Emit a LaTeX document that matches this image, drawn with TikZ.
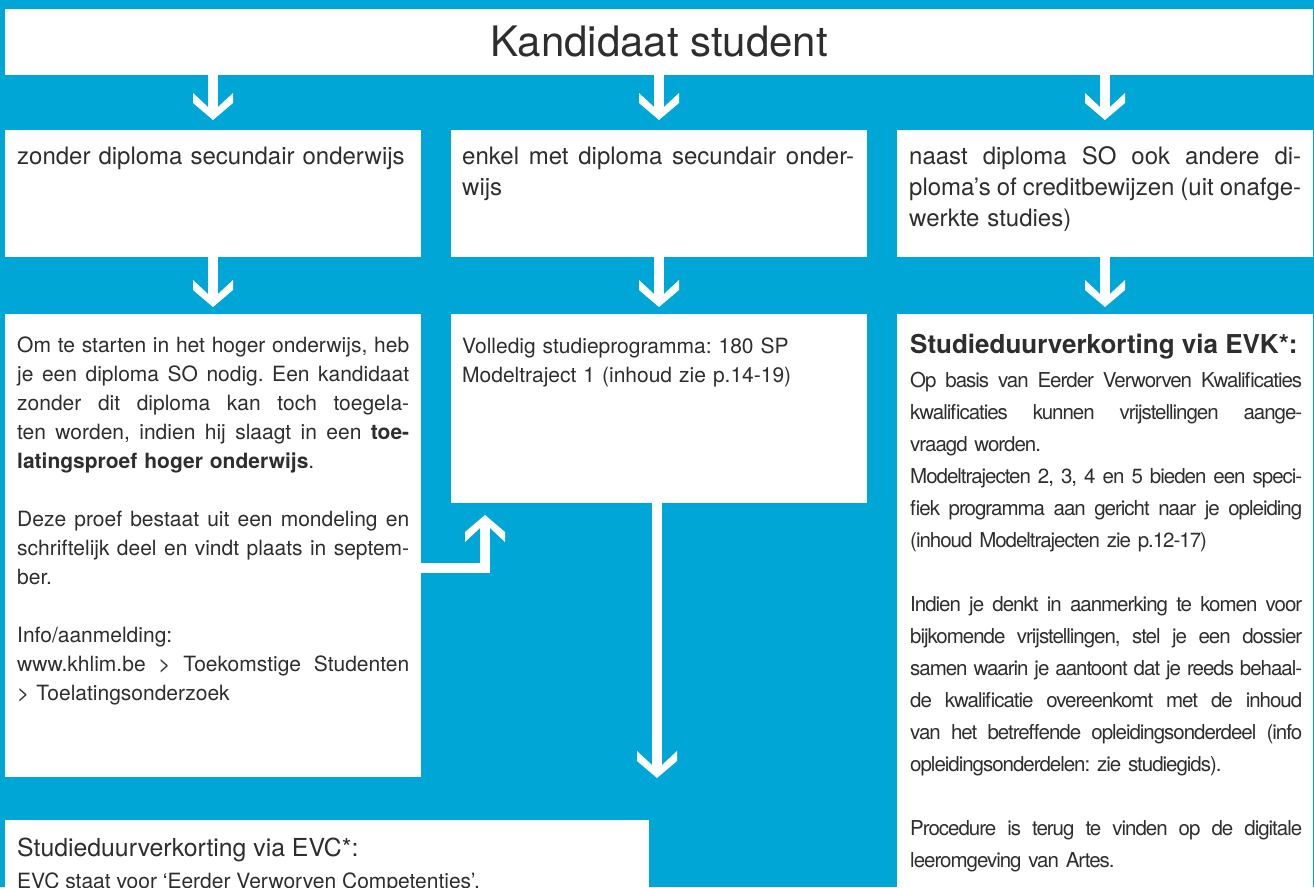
\documentclass[tikz,border=0pt]{standalone}
\usepackage{fontspec}
\setmainfont{TeX Gyre Heros}
\newfontfamily\tightfont[LetterSpace=-5]{TeX Gyre Heros}
\definecolor{khblue}{HTML}{00A7D6}
\definecolor{ink}{HTML}{2E2E2E}
\newcommand\jline[1]{\makebox[392pt][s]{\spaceskip=0pt\xspaceskip=0pt #1}}
\tikzset{
  panel/.style={fill=white, inner sep=0pt, outer sep=0pt, anchor=north west},
  link/.style={draw=white, line width=10pt, line join=miter},
  chev/.pic={\fill[white] (-5,-13) -- (-20,-27) -- (-20,-17) -- (0,0) -- (20,-17) -- (20,-27) -- (5,-13) -- cycle;},
  txt/.style={anchor=north west, inner sep=0pt, text width=393pt, align=left, text=ink},
  rowone/.style={txt, font=\fontsize{24}{31}\selectfont\frenchspacing},
  rowtwo/.style={txt, font=\fontsize{21}{29}\selectfont\frenchspacing},
  evktxt/.style={txt, text width=392pt, font=\tightfont\fontsize{20.5}{32}\selectfont\frenchspacing},
}
\begin{document}
\begin{tikzpicture}[x=1pt,y=-1pt]
\useasboundingbox (0,0) rectangle (1314,887);
\clip (0,0) rectangle (1314,887);
\fill[khblue] (0,0) rectangle (1314,887);
% boxes
\node[panel, minimum width=1308pt, minimum height=66pt, font=\fontsize{42}{42}\selectfont, text=ink] (kand) at (5,9) {Kandidaat student};
\node[panel, minimum width=416pt, minimum height=127pt] (zonder) at (5,130) {};
\node[panel, minimum width=416pt, minimum height=127pt] (enkel) at (451,130) {};
\node[panel, minimum width=416pt, minimum height=127pt] (naast) at (897,130) {};
\node[panel, minimum width=416pt, minimum height=463pt] (proef) at (5,314) {};
\node[panel, minimum width=416pt, minimum height=189pt] (volledig) at (451,314) {};
\node[panel, minimum width=416pt, minimum height=600pt] (evk) at (897,314) {};
\node[panel, minimum width=644pt, minimum height=100pt] (evc) at (5,820) {};
% arrows
\foreach \b/\t in {zonder/a1, enkel/a2, naast/a3} {
  \coordinate (\t) at ([yshift=10pt]\b.north);
  \draw[link] (kand.south -| \t) -- ([yshift=6pt]\t);
  \pic at (\t) {chev};
}
\foreach \a/\b/\t in {zonder/proef/b1, enkel/volledig/b2, naast/evk/b3} {
  \coordinate (\t) at ([yshift=7pt]\b.north);
  \draw[link] (\a.south -| \t) -- ([yshift=6pt]\t);
  \pic at (\t) {chev};
}
\coordinate (c1) at (485,515);
\draw[link] (proef.east |- 0,568) -- (c1 |- 0,568) -- ([yshift=-6pt]c1);
\pic[rotate=180] at (c1) {chev};
\coordinate (c2) at (657,778);
\draw[link] (volledig.south -| c2) -- ([yshift=6pt]c2);
\pic at (c2) {chev};
% texts
\node[rowone] at ([shift={(12,12.3)}]zonder.north west) {\strut zonder diploma secundair onderwijs};
\node[rowone] at ([shift={(11,12.3)}]enkel.north west) {\strut\jline{enkel met diploma secundair onder-}\\ wijs};
\node[rowone] at ([shift={(12,12.3)}]naast.north west) {\strut\jline{naast diploma SO ook andere di-}\\
  \jline{ploma’s of creditbewijzen (uit onafge-}\\ werkte studies)};
\node[rowtwo] at ([shift={(12,17.7)}]proef.north west) {\strut\jline{Om te starten in het hoger onderwijs, heb}\\
  \jline{je een diploma SO nodig. Een kandidaat}\\
  \jline{zonder dit diploma kan toch toegela-}\\
  \jline{ten worden, indien hij slaagt in een \textbf{toe-}}\\
  \textbf{latingsproef hoger onderwijs}.\\[29pt]
  \jline{Deze proef bestaat uit een mondeling en}\\
  \jline{schriftelijk deel en vindt plaats in septem-}\\
  ber.\\[29pt]
  Info/aanmelding:\\
  \jline{www.khlim.be > Toekomstige Studenten}\\
  > Toelatingsonderzoek};
\node[rowtwo] at ([shift={(11,18.7)}]volledig.north west) {\strut Volledig studieprogramma: 180 SP\\ Modeltraject 1 (inhoud zie p.14-19)};
\node[anchor=base west, inner sep=0pt, text=ink, font=\bfseries\fontsize{26}{30}\selectfont] at ([shift={(13,39)}]evk.north west) {Studieduurverkorting via EVK*:};
\node[evktxt] at ([shift={(13,50.6)}]evk.north west) {\strut\jline{Op basis van Eerder Verworven Kwalificaties}\\
  \jline{kwalificaties kunnen vrijstellingen aange-}\\
  vraagd worden.\\
  \jline{Modeltrajecten 2, 3, 4 en 5 bieden een speci-}\\
  \jline{fiek programma aan gericht naar je opleiding}\\
  (inhoud Modeltrajecten zie p.12-17)\\[32pt]
  \jline{Indien je denkt in aanmerking te komen voor}\\
  \jline{bijkomende vrijstellingen, stel je een dossier}\\
  \jline{samen waarin je aantoont dat je reeds behaal-}\\
  \jline{de kwalificatie overeenkomt met de inhoud}\\
  \jline{van het betreffende opleidingsonderdeel (info}\\
  opleidingsonderdelen: zie studiegids).\\[32pt]
  \jline{Procedure is terug te vinden op de digitale}\\
  leeromgeving van Artes.};
\node[anchor=base west, inner sep=0pt, text=ink, font=\fontsize{24.8}{30}\selectfont] at ([shift={(12,36)}]evc.north west) {Studieduurverkorting via EVC*:};
\node[anchor=base west, inner sep=0pt, text=ink, font=\fontsize{21}{29}\selectfont] at ([shift={(12,68)}]evc.north west) {EVC staat voor ‘Eerder Verworven Competenties’.};
\end{tikzpicture}
\end{document}
